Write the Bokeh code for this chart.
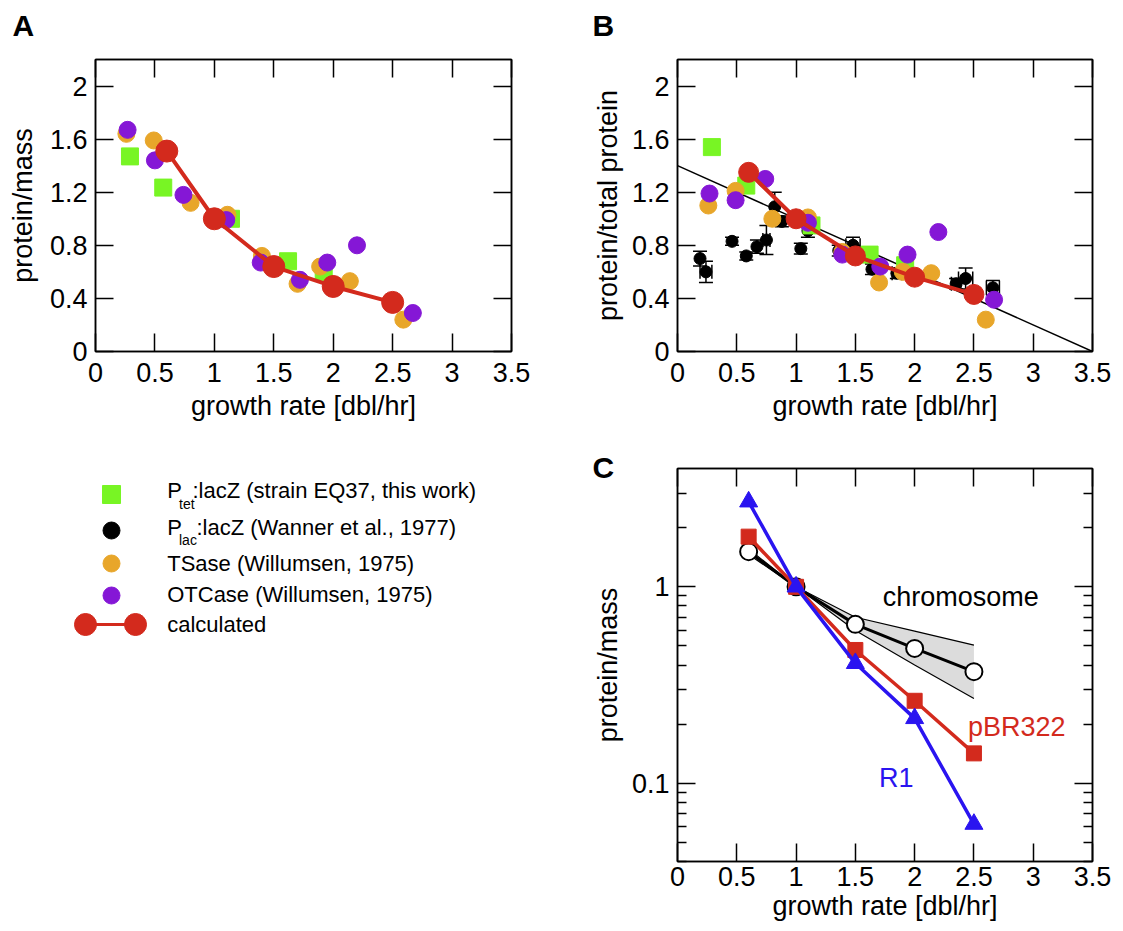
from bokeh.plotting import figure
from bokeh.layouts import row, column
from bokeh.models import (Range1d, FixedTicker, CustomJSTickFormatter, LinearAxis, LogAxis,
                          Whisker, TeeHead, ColumnDataSource)
from bokeh.embed import file_html
from bokeh.resources import INLINE
from bokeh.core.properties import value

FONT = "Liberation Sans"
GREEN = "#78f524"
ORANGE = "#e8a62a"
PURPLE = "#8517d6"
RED = "#d32a1d"
BLUE = "#2a14f0"

# ---------------- data ----------------
x_ticks = [0, 0.5, 1, 1.5, 2, 2.5, 3, 3.5]
y_ticks_lin = [0, 0.4, 0.8, 1.2, 1.6, 2]
y_ticks_log = [0.1, 1]
y_minor_log = [0.04, 0.05, 0.06, 0.07, 0.08, 0.09, 0.2, 0.3, 0.4, 0.5, 0.6, 0.7, 0.8, 0.9, 2, 3]

# Panel A
a_tet_x = [0.29, 0.57, 1.14, 1.62, 1.92]
a_tet_y = [1.47, 1.235, 1.00, 0.68, 0.60]
a_ts_x = [0.26, 0.49, 0.80, 1.11, 1.40, 1.70, 1.89, 2.14, 2.59]
a_ts_y = [1.64, 1.59, 1.12, 1.03, 0.72, 0.51, 0.64, 0.53, 0.24]
a_otc_x = [0.27, 0.50, 0.74, 1.10, 1.39, 1.72, 1.95, 2.20, 2.67]
a_otc_y = [1.67, 1.44, 1.18, 0.99, 0.67, 0.54, 0.67, 0.80, 0.29]
calc_x = [0.6, 1.0, 1.5, 2.0, 2.5]
a_calc_y = [1.51, 1.00, 0.64, 0.49, 0.37]

# Panel B
b_tet_x = [0.29, 0.58, 1.13, 1.62, 1.92]
b_tet_y = [1.54, 1.25, 0.95, 0.73, 0.65]
b_ts_x = [0.26, 0.49, 0.80, 1.10, 1.39, 1.70, 1.90, 2.14, 2.60]
b_ts_y = [1.10, 1.21, 1.00, 1.01, 0.75, 0.52, 0.60, 0.59, 0.24]
b_otc_x = [0.27, 0.49, 0.74, 1.10, 1.39, 1.71, 1.94, 2.20, 2.67]
b_otc_y = [1.19, 1.14, 1.30, 0.97, 0.73, 0.64, 0.73, 0.90, 0.39]
b_calc_y = [1.35, 1.00, 0.72, 0.56, 0.43]
wan_x = [0.19, 0.24, 0.46, 0.58, 0.67, 0.75, 0.82, 0.88, 1.04, 1.10, 1.36, 1.48, 1.64, 1.85, 2.35, 2.43, 2.66]
wan_y = [0.70, 0.60, 0.83, 0.72, 0.79, 0.84, 1.09, 0.98, 0.775, 0.91, 0.76, 0.80, 0.62, 0.59, 0.51, 0.55, 0.48]
wan_yerr = [0.055, 0.08, 0.03, 0.03, 0.05, 0.11, 0.11, 0.04, 0.04, 0.05, 0.04, 0.06, 0.04, 0.04, 0.04, 0.08, 0.055]
wan_xerr = [0, 0.05, 0, 0, 0, 0.03, 0, 0, 0, 0, 0, 0.06, 0, 0.04, 0.04, 0.06, 0.055]
fit_x = [0.0, 3.5]
fit_y = [1.4, 0.0]

# Panel C
chrom_y = [1.51, 1.0, 0.644, 0.486, 0.37]
chrom_hi = [1.56, 1.0, 0.70, 0.595, 0.505]
chrom_lo = [1.46, 1.0, 0.60, 0.40, 0.27]
pbr_y = [1.80, 1.0, 0.477, 0.263, 0.142]
r1_y = [2.71, 1.0, 0.408, 0.214, 0.062]

legend_labels = ["TSase (Willumsen, 1975)", "OTCase (Willumsen, 1975)", "calculated"]
panel_letters = ["A", "B", "C"]

# ---------------- helpers ----------------
def style_axis(ax, size="27px", standoff=6, label_standoff=2):
    ax.major_tick_in = 18
    ax.major_tick_out = 0
    ax.minor_tick_in = 9
    ax.minor_tick_out = 0
    ax.axis_line_color = "black"
    ax.axis_line_width = 1.5
    ax.major_tick_line_color = "black"
    ax.major_tick_line_width = 1.5
    ax.minor_tick_line_color = "black"
    ax.minor_tick_line_width = 1.5
    ax.major_label_text_font = FONT
    ax.major_label_text_font_size = size
    ax.major_label_text_color = "black"
    ax.axis_label_text_font = FONT
    ax.axis_label_text_font_size = size
    ax.axis_label_text_font_style = "normal"
    ax.axis_label_text_color = "black"
    ax.major_label_standoff = standoff
    ax.axis_label_standoff = label_standoff


def mirror(p, yticker, log=False):
    top = LinearAxis(ticker=FixedTicker(ticks=x_ticks), formatter=CustomJSTickFormatter(code="return ''"))
    style_axis(top, size="1px")
    top.major_label_standoff = 0
    p.add_layout(top, "above")
    right = (LogAxis if log else LinearAxis)(ticker=yticker, formatter=CustomJSTickFormatter(code="return ''"))
    style_axis(right, size="1px")
    right.major_label_standoff = 0
    p.add_layout(right, "right")


def make_fig(width, height, left, right, top, bottom, x_range, y_range, y_type="linear"):
    p = figure(width=width, height=height, x_range=x_range, y_range=y_range,
               y_axis_type=y_type, output_backend="svg", toolbar_location=None,
               min_border_left=left, min_border_right=right, min_border_top=top,
               min_border_bottom=bottom)
    p.grid.visible = False
    p.outline_line_color = "black"
    p.outline_line_width = 1.5
    p.background_fill_color = "white"
    p.border_fill_color = "white"
    return p


def fmt():
    return CustomJSTickFormatter(code="return tick.toString()")


# geometry (page pixels)
W = 1123
SH = 45                 # strip holding the letters A and B
LW, RW = 585, 538
TH, BH = 386, 500       # SH + TH + BH = 931

# ---------------- letter strip ----------------
pS = figure(width=W, height=SH, x_range=Range1d(0, W), y_range=Range1d(SH, 0),
            output_backend="svg", toolbar_location=None, x_axis_location=None,
            y_axis_location=None, min_border=0)
pS.grid.visible = False
pS.outline_line_color = None
pS.border_fill_color = "white"
pS.text(x=[12, 592], y=[25, 25], text=panel_letters[:2], text_color="black",
        text_font=value(FONT), text_font_style="bold", text_font_size="30px",
        text_baseline="middle", text_align="left")

# ---------------- Panel A ----------------
pA = make_fig(LW, TH, 95, 74, 14, 80, Range1d(0, 3.5), Range1d(0, 2.2))
pA.xaxis.ticker = FixedTicker(ticks=x_ticks)
pA.yaxis.ticker = FixedTicker(ticks=y_ticks_lin)
pA.xaxis.formatter = fmt()
pA.yaxis.formatter = fmt()
pA.xaxis.axis_label = "growth rate [dbl/hr]"
pA.yaxis.axis_label = "protein/mass"
style_axis(pA.xaxis[0], standoff=11, label_standoff=6)
style_axis(pA.yaxis[0], standoff=8, label_standoff=9)
mirror(pA, FixedTicker(ticks=y_ticks_lin))

pA.scatter(a_tet_x, a_tet_y, marker="square", size=17, color=GREEN)
pA.scatter(a_ts_x, a_ts_y, marker="circle", size=17, color=ORANGE)
pA.scatter(a_otc_x, a_otc_y, marker="circle", size=17, color=PURPLE)
pA.line(calc_x, a_calc_y, line_width=4, color=RED)
pA.scatter(calc_x, a_calc_y, marker="circle", size=22, color=RED)

# ---------------- Panel B ----------------
pB = make_fig(RW, TH, 92, 31, 14, 80, Range1d(0, 3.5), Range1d(0, 2.2))
pB.xaxis.ticker = FixedTicker(ticks=x_ticks)
pB.yaxis.ticker = FixedTicker(ticks=y_ticks_lin)
pB.xaxis.formatter = fmt()
pB.yaxis.formatter = fmt()
pB.xaxis.axis_label = "growth rate [dbl/hr]"
pB.yaxis.axis_label = "protein/total protein"
style_axis(pB.xaxis[0], standoff=11, label_standoff=6)
style_axis(pB.yaxis[0], standoff=8, label_standoff=6)
mirror(pB, FixedTicker(ticks=y_ticks_lin))

pB.line(fit_x, fit_y, line_width=1.5, color="black")
wsrc = ColumnDataSource(dict(x=wan_x, y=wan_y,
                             lo=[y - e for y, e in zip(wan_y, wan_yerr)],
                             hi=[y + e for y, e in zip(wan_y, wan_yerr)]))
pB.add_layout(Whisker(source=wsrc, base="x", lower="lo", upper="hi", dimension="height",
                      line_color="black", line_width=1.5,
                      lower_head=TeeHead(size=14, line_color="black", line_width=1.5),
                      upper_head=TeeHead(size=14, line_color="black", line_width=1.5)))
xe_idx = [i for i, e in enumerate(wan_xerr) if e > 0]
xsrc = ColumnDataSource(dict(y=[wan_y[i] for i in xe_idx],
                             lo=[wan_x[i] - wan_xerr[i] for i in xe_idx],
                             hi=[wan_x[i] + wan_xerr[i] for i in xe_idx]))
pB.add_layout(Whisker(source=xsrc, base="y", lower="lo", upper="hi", dimension="width",
                      line_color="black", line_width=1.5,
                      lower_head=TeeHead(size=14, line_color="black", line_width=1.5),
                      upper_head=TeeHead(size=14, line_color="black", line_width=1.5)))
pB.scatter(wan_x, wan_y, marker="circle", size=12, color="black")
pB.scatter(b_tet_x, b_tet_y, marker="square", size=17, color=GREEN)
pB.scatter(b_ts_x, b_ts_y, marker="circle", size=17, color=ORANGE)
pB.scatter(b_otc_x, b_otc_y, marker="circle", size=17, color=PURPLE)
pB.line(calc_x, b_calc_y, line_width=4, color=RED)
pB.scatter(calc_x, b_calc_y, marker="circle", size=20, color=RED)

# ---------------- Panel C ----------------
pC = make_fig(RW, BH, 92, 31, 37, 70, Range1d(0, 3.5), Range1d(0.04, 4), y_type="log")
pC.xaxis.ticker = FixedTicker(ticks=x_ticks)
pC.yaxis.ticker = FixedTicker(ticks=y_ticks_log, minor_ticks=y_minor_log)
pC.xaxis.formatter = fmt()
pC.yaxis.formatter = fmt()
pC.xaxis.axis_label = "growth rate [dbl/hr]"
pC.yaxis.axis_label = "protein/mass"
style_axis(pC.xaxis[0], standoff=5)
style_axis(pC.yaxis[0], standoff=8, label_standoff=6)
mirror(pC, FixedTicker(ticks=y_ticks_log, minor_ticks=y_minor_log), log=True)

pC.varea(x=calc_x, y1=chrom_lo, y2=chrom_hi, fill_color="#dcdcdc")
pC.line(calc_x, chrom_hi, line_width=1.2, color="black")
pC.line(calc_x, chrom_lo, line_width=1.2, color="black")
pC.line(calc_x, chrom_y, line_width=3, color="black")
pC.scatter(calc_x, chrom_y, marker="circle", size=17, fill_color="white",
           line_color="black", line_width=2)
pC.line(calc_x, pbr_y, line_width=3.5, color=RED)
pC.scatter(calc_x, pbr_y, marker="square", size=15, color=RED)
pC.line(calc_x, r1_y, line_width=3.5, color=BLUE)
pC.scatter(calc_x, r1_y, marker="triangle", size=18, color=BLUE)
pC.text(x=[1.73], y=[0.887], text=["chromosome"], text_color="black", text_font=value(FONT),
        text_font_size="27px", text_baseline="middle", text_align="left")
pC.text(x=[2.45], y=[0.193], text=["pBR322"], text_color=RED, text_font=value(FONT),
        text_font_size="27px", text_baseline="middle", text_align="left")
pC.text(x=[1.70], y=[0.106], text=["R1"], text_color=BLUE, text_font=value(FONT),
        text_font_size="27px", text_baseline="middle", text_align="left")
t = pC.title
t.text = panel_letters[2]
t.align = "left"
t.offset = -85
t.standoff = -30
t.vertical_align = "bottom"
t.text_font = FONT
t.text_font_style = "bold"
t.text_font_size = "30px"
t.text_color = "black"

# ---------------- Legend (frame in page pixel coordinates) ----------------
y0 = SH + TH
pL = figure(width=LW, height=BH, x_range=Range1d(0, LW), y_range=Range1d(y0 + BH - 70, y0 + 37),
            output_backend="svg", toolbar_location=None, x_axis_location=None,
            y_axis_location=None, min_border_left=0, min_border_right=0,
            min_border_top=37, min_border_bottom=70)
pL.grid.visible = False
pL.outline_line_color = None
pL.border_fill_color = "white"


def ltext(x, y, txt, size="22px"):
    pL.text(x=[x], y=[y], text=[txt], text_color="black", text_font=value(FONT),
            text_font_size=size, text_baseline="middle", text_align="left")

pL.scatter([111], [494], marker="square", size=18, color=GREEN)
ltext(166.7, 490, "P")
ltext(178.5, 503, "tet", "14px")
ltext(192, 490, ":lacZ (strain EQ37, this work)")
pL.scatter([111], [530], marker="circle", size=17, color="black")
ltext(166.7, 527, "P")
ltext(178.5, 539, "lac", "14px")
ltext(196, 527, ":lacZ (Wanner et al., 1977)")
pL.scatter([111], [563], marker="circle", size=17, color=ORANGE)
ltext(166.7, 563, legend_labels[0])
pL.scatter([111], [595], marker="circle", size=17, color=PURPLE)
ltext(166.7, 594, legend_labels[1])
pL.line([85, 135], [624, 624], line_width=3, color=RED)
pL.scatter([85, 135], [624, 624], marker="circle", size=22, color=RED)
ltext(166.7, 624, legend_labels[2])

layout = column(row(pS, spacing=0), row(pA, pB, spacing=0), row(pL, pC, spacing=0), spacing=0)

with open("out.html", "w") as f:
    f.write(file_html(layout, INLINE))
